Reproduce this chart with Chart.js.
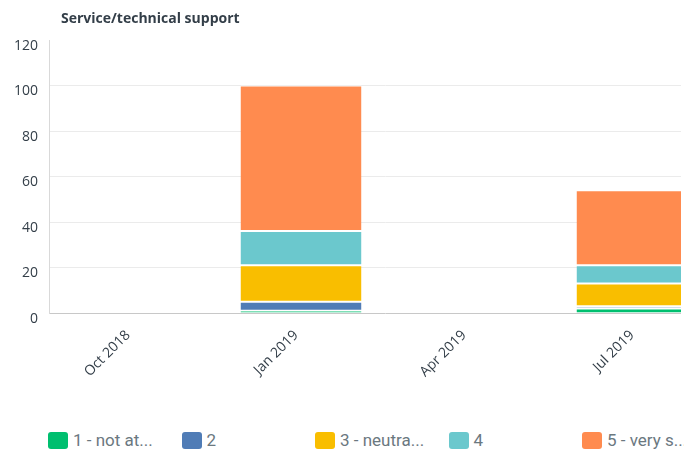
<!DOCTYPE html>
<html>
<head>
<meta charset="utf-8">
<script src="https://cdn.jsdelivr.net/npm/chart.js@4.4.1/dist/chart.umd.min.js"></script>
<style>
  html, body { margin: 0; padding: 0; background: #fff; }
  #wrap { position: relative; width: 694px; height: 453px; overflow: hidden; font-family: "Open Sans", sans-serif; }
  #title { position: absolute; left: 61px; top: 8px; font-size: 14px; font-weight: 700; color: #333e48; white-space: nowrap; }
  #plot { position: absolute; left: 0; top: 0; width: 681px; height: 410px; overflow: hidden; }
  #plot canvas { display: block; }
  #legend { position: absolute; left: 48px; top: 430px; width: 636px; height: 22px; overflow: hidden; white-space: nowrap; }
  .item { position: absolute; top: 0; height: 20px; display: flex; align-items: center; }
  .swatch { width: 20px; height: 17px; border-radius: 3px; margin-right: 5px; flex: none; }
  .label { font-family: "Liberation Sans Narrow", "Roboto", sans-serif; font-size: 17px; color: #6b787f; }
</style>
</head>
<body>
<div id="wrap">
  <div id="plot"><canvas id="chart" width="734" height="410"></canvas></div>
  <div id="title">Service/technical support</div>
  <div id="legend"></div>
</div>
<script>
// Survey periods on the x axis
const periods = ['Oct 2018', 'Jan 2019', 'Apr 2019', 'Jul 2019'];

// Rating names, lowest to highest
const ratings = ['1 - not at all satisfied', '2', '3 - neutral', '4', '5 - very satisfied'];

// Response counts per period for each rating
const notAtAllSatisfied = [null, 1, null, 2];
const ratingTwo         = [null, 4, null, 1];
const neutral           = [null, 16, null, 10];
const ratingFour        = [null, 15, null, 8];
const verySatisfied     = [null, 64, null, 33];

// Value-axis ticks
const yTicks = [0, 20, 40, 60, 80, 100, 120];

const seriesValues = [notAtAllSatisfied, ratingTwo, neutral, ratingFour, verySatisfied];
const palette = ['#00bf6f', '#507cb6', '#f9be00', '#6bc8cd', '#ff8b4f'];

const datasets = ratings.map((name, i) => ({
  label: name,
  data: seriesValues[i],
  backgroundColor: palette[i],
  borderColor: '#ffffff',
  borderWidth: { top: 1, bottom: 1, left: 0, right: 0 },
  borderSkipped: i === 0 ? 'start' : false,
  categoryPercentage: 0.8,
  barPercentage: 0.9
}));

new Chart(document.getElementById('chart'), {
  type: 'bar',
  data: { labels: periods, datasets },
  options: {
    responsive: false,
    animation: false,
    devicePixelRatio: 1,
    layout: { padding: { top: 40, right: 13, left: 0, bottom: 0 } },
    plugins: {
      legend: { display: false },
      title: { display: false },
      tooltip: { enabled: false }
    },
    scales: {
      x: {
        stacked: true,
        grid: { display: false },
        border: { display: true, color: '#c8c8c8', width: 1 },
        ticks: {
          color: '#333e48',
          font: { family: 'Open Sans', size: 14 },
          maxRotation: 45,
          minRotation: 45,
          padding: 6,
          labelOffset: -5
        },
        afterFit(scale) { scale.height = 97; }
      },
      y: {
        stacked: true,
        min: yTicks[0],
        max: yTicks[yTicks.length - 1],
        afterBuildTicks(scale) { scale.ticks = yTicks.map(v => ({ value: v })); },
        grid: {
          drawTicks: false,
          color: ctx => (ctx.tick && (ctx.tick.value === 0 || ctx.tick.value === 120)) ? 'rgba(0,0,0,0)' : '#ebebeb',
          lineWidth: 1
        },
        border: { display: true, color: '#d9d9d9', width: 1 },
        ticks: {
          color: '#333e48',
          font: { family: 'Open Sans', size: 14 },
          padding: 11,
          labelOffset: 6
        },
        afterFit(scale) { scale.width = 49; }
      }
    }
  }
});

// Fixed-width legend row; long names are shortened
const legend = document.getElementById('legend');
ratings.forEach((name, i) => {
  const item = document.createElement('div');
  item.className = 'item';
  item.style.left = (i * 133.5) + 'px';
  const sw = document.createElement('span');
  sw.className = 'swatch';
  sw.style.background = palette[i];
  const lb = document.createElement('span');
  lb.className = 'label';
  lb.textContent = name.length > 10 ? name.slice(0, 10) + '...' : name;
  item.appendChild(sw);
  item.appendChild(lb);
  legend.appendChild(item);
});
</script>
</body>
</html>
